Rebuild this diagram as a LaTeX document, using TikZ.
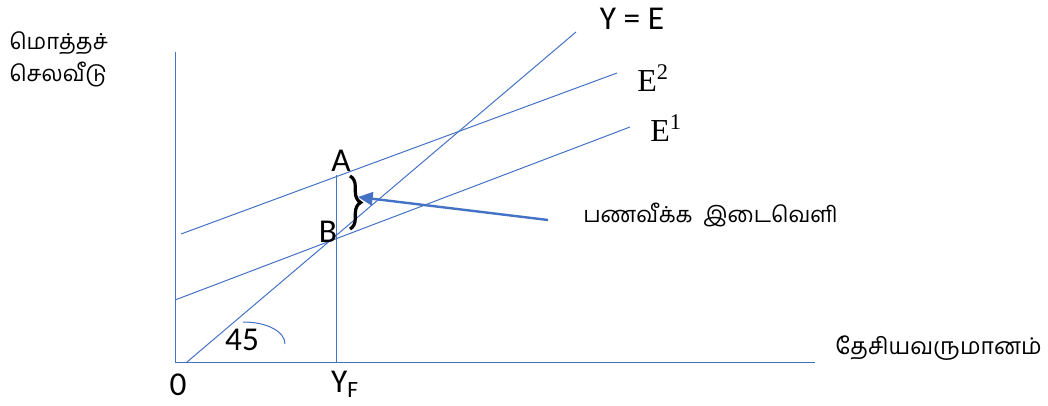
\documentclass[tikz,border=0pt]{standalone}
\usepackage{fontspec}
\setmainfont{Carlito}
\newfontfamily\tamil[Script=Tamil]{Hind Madurai}
\newfontfamily\timesf{Liberation Serif}
\usetikzlibrary{decorations.pathreplacing,arrows.meta}
\definecolor{lineblue}{HTML}{4472C4}
\tikzset{
  ln/.style={draw=lineblue, line width=0.75pt},
  lbl/.style={inner sep=0pt, font=\fontsize{25}{28}\selectfont},
  tlbl/.style={inner sep=0pt, font=\tamil\fontsize{16.5}{24}\selectfont},
  elbl/.style={inner sep=0pt, font=\timesf\fontsize{24}{26}\selectfont},
}
\begin{document}
\begin{tikzpicture}[x=0.75pt,y=-0.75pt]
\useasboundingbox (0,0) rectangle (1048,406);
% coordinates
\coordinate (yTop) at (175,52);
\coordinate (orig) at (175,362);
\coordinate (xEnd) at (815,362);
\coordinate (d0) at (187,362);
\coordinate (d1) at (576,32);
\coordinate (e2a) at (181,234);
\coordinate (e2b) at (617,73);
\coordinate (e1a) at (175,300);
\coordinate (e1b) at (630,127);
\coordinate (vTop) at (336,175);
\coordinate (vBot) at (336,362);
\coordinate (bTop) at (350,176);
\coordinate (bBot) at (350,229);
\coordinate (arS) at (548,220);
\coordinate (arE) at (358,197);
\coordinate (arcS) at (243,322);
\coordinate (arcE) at (285,344);
% axes and lines
\draw[ln] (yTop) -- (orig) -- (xEnd);
\draw[ln] (d0) -- (d1);
\draw[ln] (e2a) -- (e2b);
\draw[ln] (e1a) -- (e1b);
\draw[ln] (vTop) -- (vBot);
\draw[ln] (arcS) .. controls (268,322) and (285,332) .. (arcE);
% brace
\draw[line width=2.4pt, decorate, decoration={brace, amplitude=8pt}] (bTop) -- (bBot);
% arrow
\draw[draw=lineblue, line width=1.8pt, -{Triangle[length=11pt,width=10pt]}] (arS) -- (arE);
% labels
\node[lbl] (A) at (341,161) {A};
\node[lbl] (B) at (328,232) {B};
\node[lbl] (n45) at (242,340) {45};
\node[lbl] (zero) at (178,385) {0};
\node[lbl] (YF) at (345,384) {Y\textsubscript{F}};
\node[lbl] (YE) at (632,19) {Y = E};
\node[elbl, anchor=west] (E2) at (637,78) {E\textsuperscript{2}};
\node[elbl, anchor=west] (E1) at (650,128) {E\textsuperscript{1}};
\node[tlbl, anchor=west, align=left] (ylab) at (9,59) {மொத்தச்\\செலவீடு};
\node[tlbl, anchor=west] (gap) at (583,215) {பணவீக்க\ \ இடைவெளி};
\node[tlbl, anchor=west, font=\tamil\fontsize{17.3}{24}\selectfont] (xlab) at (835,348) {தேசியவருமானம்};
\end{tikzpicture}
\end{document}
